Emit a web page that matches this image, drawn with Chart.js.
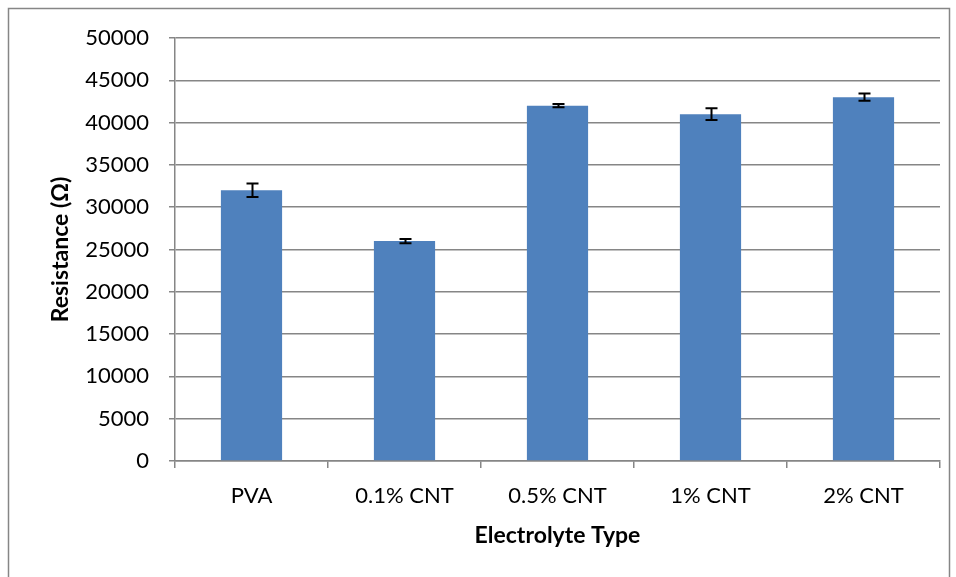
<!DOCTYPE html>
<html>
<head>
<meta charset="utf-8">
<script src="https://cdn.jsdelivr.net/npm/chart.js@4/dist/chart.umd.min.js"></script>
<style>
  html, body { margin: 0; padding: 0; background: #fff; }
  #wrap { position: relative; width: 956px; height: 577px; }
</style>
</head>
<body>
<div id="wrap"><canvas id="resistance"></canvas></div>
<script>
var electrolytes = ["PVA", "0.1% CNT", "0.5% CNT", "1% CNT", "2% CNT"];
var resistance = [32000, 26000, 42000, 41000, 43000];
var resistanceErr = [800, 250, 200, 700, 430];
var yMin = 0;
var yMax = 50000;
var yStep = 5000;

var gridGray = "#868686";
var fontFamily = "Lato, 'Open Sans', sans-serif";

// outer frame of the chart object
var framePlugin = {
  id: "frame",
  beforeDraw: function (chart) {
    var c = chart.ctx;
    c.save();
    c.strokeStyle = gridGray;
    c.lineWidth = 1.5;
    c.strokeRect(8.5, 8.5, 941, 620);
    c.restore();
  },
};

// error bars: +/- value drawn through the y scale
var errorBarPlugin = {
  id: "errorBars",
  afterDatasetsDraw: function (chart) {
    var c = chart.ctx;
    var yScale = chart.scales.y;
    var meta = chart.getDatasetMeta(0);
    c.save();
    c.strokeStyle = "#000";
    c.lineWidth = 2;
    meta.data.forEach(function (bar, i) {
      var v = resistance[i];
      var e = resistanceErr[i];
      var yTop = yScale.getPixelForValue(v + e);
      var yBot = yScale.getPixelForValue(v - e);
      var x = Math.round(bar.x) + 0.5;
      c.beginPath();
      c.moveTo(x, yTop);
      c.lineTo(x, yBot);
      c.moveTo(x - 6, yTop);
      c.lineTo(x + 6, yTop);
      c.moveTo(x - 6, yBot);
      c.lineTo(x + 6, yBot);
      c.stroke();
    });
    c.restore();
  },
};

var ctx = document.getElementById("resistance").getContext("2d");
var resistanceChart = new Chart(ctx, {
  type: "bar",
  data: {
    labels: electrolytes,
    datasets: [
      {
        data: resistance,
        backgroundColor: "#4f81bd",
        barPercentage: 0.4,
        categoryPercentage: 1.0,
      },
    ],
  },
  options: {
    responsive: true,
    maintainAspectRatio: false,
    animation: false,
    layout: { padding: { top: 38, right: 16, left: 0, bottom: 0 } },
    plugins: {
      legend: { display: false },
      tooltip: { enabled: false },
    },
    scales: {
      x: {
        grid: {
          offset: true,
          drawOnChartArea: false,
          drawTicks: true,
          tickLength: 7,
          color: gridGray,
          lineWidth: 1.5,
        },
        border: { color: gridGray, width: 1.5 },
        ticks: {
          color: "#000",
          padding: 15,
          font: { family: fontFamily, size: 22 },
        },
        title: {
          display: true,
          text: "Electrolyte Type",
          color: "#000",
          font: { family: fontFamily, size: 23, weight: "bold" },
          padding: { top: 0, bottom: 28 },
        },
        afterFit: function (scale) {
          scale.height = 116;
        },
      },
      y: {
        min: yMin,
        max: yMax,
        grid: {
          color: gridGray,
          lineWidth: 1.5,
          tickLength: 6,
        },
        border: { color: gridGray, width: 1.5 },
        ticks: {
          stepSize: yStep,
          color: "#000",
          padding: 20,
          font: { family: fontFamily, size: 22 },
          callback: function (value) {
            return String(value);
          },
        },
        title: {
          display: true,
          text: "Resistance (Ω)",
          color: "#000",
          font: { family: fontFamily, size: 23, weight: "bold" },
          padding: { top: 47, bottom: 0 },
        },
        afterFit: function (scale) {
          scale.width = 175;
        },
      },
    },
  },
  plugins: [framePlugin, errorBarPlugin],
});
</script>
</body>
</html>
